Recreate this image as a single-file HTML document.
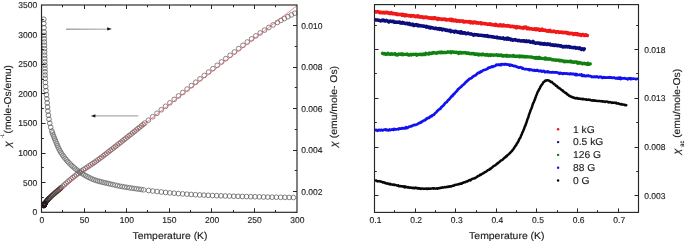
<!DOCTYPE html><html><head><meta charset="utf-8"><style>html,body{margin:0;padding:0;background:#fff;}svg{display:block;will-change:transform;}text{text-rendering:geometricPrecision;font-family:"Liberation Sans",sans-serif;fill:#1c1c1c;stroke:#1c1c1c;stroke-width:0.14px;}</style></head><body>
<svg width="685" height="242" viewBox="0 0 685 242">
<rect width="685" height="242" fill="#fff"/>
<g fill="none"><circle cx="43.80" cy="205.63" r="2.35" stroke="#1e1414" stroke-width="0.9"/><circle cx="43.91" cy="205.47" r="2.35" stroke="#1e1414" stroke-width="0.9"/><circle cx="44.01" cy="205.30" r="2.35" stroke="#1e1414" stroke-width="0.9"/><circle cx="44.11" cy="205.13" r="2.35" stroke="#1e1414" stroke-width="0.9"/><circle cx="44.19" cy="204.99" r="2.35" stroke="#1e1414" stroke-width="0.9"/><circle cx="44.27" cy="204.84" r="2.35" stroke="#1e1414" stroke-width="0.9"/><circle cx="44.35" cy="204.69" r="2.35" stroke="#1e1414" stroke-width="0.9"/><circle cx="44.42" cy="204.53" r="2.35" stroke="#1e1414" stroke-width="0.9"/><circle cx="44.50" cy="204.36" r="2.35" stroke="#1e1414" stroke-width="0.9"/><circle cx="44.57" cy="204.19" r="2.35" stroke="#1e1414" stroke-width="0.9"/><circle cx="44.64" cy="204.01" r="2.35" stroke="#1e1414" stroke-width="0.9"/><circle cx="44.72" cy="203.82" r="2.35" stroke="#1e1414" stroke-width="0.9"/><circle cx="44.80" cy="203.62" r="2.35" stroke="#1e1414" stroke-width="0.9"/><circle cx="44.87" cy="203.42" r="2.35" stroke="#1e1414" stroke-width="0.9"/><circle cx="44.94" cy="203.20" r="2.35" stroke="#1e1414" stroke-width="0.9"/><circle cx="45.00" cy="203.39" r="2.35" stroke="#2a1c1c" stroke-width="0.8"/><circle cx="45.64" cy="202.37" r="2.35" stroke="#2a1c1c" stroke-width="0.8"/><circle cx="46.33" cy="201.39" r="2.35" stroke="#2a1c1c" stroke-width="0.8"/><circle cx="47.09" cy="200.45" r="2.35" stroke="#2a1c1c" stroke-width="0.8"/><circle cx="47.89" cy="199.55" r="2.35" stroke="#2a1c1c" stroke-width="0.8"/><circle cx="48.72" cy="198.68" r="2.35" stroke="#2a1c1c" stroke-width="0.8"/><circle cx="49.58" cy="197.84" r="2.35" stroke="#2a1c1c" stroke-width="0.8"/><circle cx="50.61" cy="196.88" r="2.35" stroke="#3a2828" stroke-width="0.75"/><circle cx="51.64" cy="195.93" r="2.35" stroke="#3a2828" stroke-width="0.75"/><circle cx="52.67" cy="194.98" r="2.35" stroke="#3a2828" stroke-width="0.75"/><circle cx="53.72" cy="194.05" r="2.35" stroke="#3a2828" stroke-width="0.75"/><circle cx="54.79" cy="193.14" r="2.35" stroke="#3a2828" stroke-width="0.75"/><circle cx="55.86" cy="192.24" r="2.35" stroke="#3a2828" stroke-width="0.75"/><circle cx="56.94" cy="191.34" r="2.35" stroke="#3a2828" stroke-width="0.75"/><circle cx="58.02" cy="190.44" r="2.35" stroke="#3a2828" stroke-width="0.75"/><circle cx="59.09" cy="189.53" r="2.35" stroke="#3a2828" stroke-width="0.75"/><circle cx="60.14" cy="188.60" r="2.35" stroke="#3a2828" stroke-width="0.75"/><circle cx="61.19" cy="187.67" r="2.35" stroke="#3a2828" stroke-width="0.75"/><circle cx="62.83" cy="186.19" r="2.35" stroke="#6e5858" stroke-width="0.7"/><circle cx="64.47" cy="184.72" r="2.35" stroke="#6e5858" stroke-width="0.7"/><circle cx="66.11" cy="183.25" r="2.35" stroke="#6e5858" stroke-width="0.7"/><circle cx="67.77" cy="181.80" r="2.35" stroke="#6e5858" stroke-width="0.7"/><circle cx="69.44" cy="180.36" r="2.35" stroke="#6e5858" stroke-width="0.7"/><circle cx="71.14" cy="178.96" r="2.35" stroke="#6e5858" stroke-width="0.7"/><circle cx="72.85" cy="177.58" r="2.35" stroke="#6e5858" stroke-width="0.7"/><circle cx="74.57" cy="176.21" r="2.35" stroke="#6e5858" stroke-width="0.7"/><circle cx="76.31" cy="174.85" r="2.35" stroke="#6e5858" stroke-width="0.7"/><circle cx="78.06" cy="173.52" r="2.35" stroke="#6e5858" stroke-width="0.7"/><circle cx="79.83" cy="172.20" r="2.35" stroke="#6e5858" stroke-width="0.7"/><circle cx="81.62" cy="170.92" r="2.35" stroke="#6e5858" stroke-width="0.7"/><circle cx="83.43" cy="169.66" r="2.35" stroke="#6e5858" stroke-width="0.7"/><circle cx="85.27" cy="168.44" r="2.35" stroke="#6e5858" stroke-width="0.7"/><circle cx="87.11" cy="167.24" r="2.35" stroke="#6e5858" stroke-width="0.7"/><circle cx="88.96" cy="166.04" r="2.35" stroke="#6e5858" stroke-width="0.7"/><circle cx="90.81" cy="164.84" r="2.35" stroke="#6e5858" stroke-width="0.7"/><circle cx="92.64" cy="163.62" r="2.35" stroke="#6e5858" stroke-width="0.7"/><circle cx="94.46" cy="162.38" r="2.35" stroke="#6e5858" stroke-width="0.7"/><circle cx="96.26" cy="161.10" r="2.35" stroke="#6e5858" stroke-width="0.7"/><circle cx="98.04" cy="159.81" r="2.35" stroke="#6e5858" stroke-width="0.7"/><circle cx="99.81" cy="158.50" r="2.35" stroke="#6e5858" stroke-width="0.7"/><circle cx="101.57" cy="157.18" r="2.35" stroke="#6e5858" stroke-width="0.7"/><circle cx="103.33" cy="155.84" r="2.35" stroke="#6e5858" stroke-width="0.7"/><circle cx="105.08" cy="154.50" r="2.35" stroke="#6e5858" stroke-width="0.7"/><circle cx="106.82" cy="153.16" r="2.35" stroke="#6e5858" stroke-width="0.7"/><circle cx="108.56" cy="151.81" r="2.35" stroke="#6e5858" stroke-width="0.7"/><circle cx="110.30" cy="150.46" r="2.35" stroke="#6e5858" stroke-width="0.7"/><circle cx="112.04" cy="149.10" r="2.35" stroke="#6e5858" stroke-width="0.7"/><circle cx="113.77" cy="147.75" r="2.35" stroke="#6e5858" stroke-width="0.7"/><circle cx="115.52" cy="146.40" r="2.35" stroke="#6e5858" stroke-width="0.7"/><circle cx="117.25" cy="145.05" r="2.35" stroke="#6e5858" stroke-width="0.7"/><circle cx="118.99" cy="143.69" r="2.35" stroke="#6e5858" stroke-width="0.7"/><circle cx="120.72" cy="142.33" r="2.35" stroke="#6e5858" stroke-width="0.7"/><circle cx="122.46" cy="140.97" r="2.35" stroke="#6e5858" stroke-width="0.7"/><circle cx="124.18" cy="139.60" r="2.35" stroke="#6e5858" stroke-width="0.7"/><circle cx="125.91" cy="138.24" r="2.35" stroke="#6e5858" stroke-width="0.7"/><circle cx="127.64" cy="136.87" r="2.35" stroke="#6e5858" stroke-width="0.7"/><circle cx="129.36" cy="135.50" r="2.35" stroke="#6e5858" stroke-width="0.7"/><circle cx="131.08" cy="134.13" r="2.35" stroke="#6e5858" stroke-width="0.7"/><circle cx="132.80" cy="132.75" r="2.35" stroke="#6e5858" stroke-width="0.7"/><circle cx="134.53" cy="131.38" r="2.35" stroke="#6e5858" stroke-width="0.7"/><circle cx="136.25" cy="130.00" r="2.35" stroke="#6e5858" stroke-width="0.7"/><circle cx="137.97" cy="128.62" r="2.35" stroke="#6e5858" stroke-width="0.7"/><circle cx="139.69" cy="127.25" r="2.35" stroke="#6e5858" stroke-width="0.7"/><circle cx="141.40" cy="125.86" r="2.35" stroke="#6e5858" stroke-width="0.7"/><circle cx="143.12" cy="124.48" r="2.35" stroke="#6e5858" stroke-width="0.7"/><circle cx="144.83" cy="123.10" r="2.35" stroke="#6e5858" stroke-width="0.7"/><circle cx="148.40" cy="120.21" r="2.35" stroke="#665050" stroke-width="0.7"/><circle cx="152.70" cy="116.72" r="2.35" stroke="#665050" stroke-width="0.7"/><circle cx="157.00" cy="113.24" r="2.35" stroke="#665050" stroke-width="0.7"/><circle cx="161.30" cy="109.76" r="2.35" stroke="#665050" stroke-width="0.7"/><circle cx="165.60" cy="106.30" r="2.35" stroke="#665050" stroke-width="0.7"/><circle cx="169.90" cy="102.85" r="2.35" stroke="#665050" stroke-width="0.7"/><circle cx="174.20" cy="99.39" r="2.35" stroke="#665050" stroke-width="0.7"/><circle cx="178.50" cy="95.95" r="2.35" stroke="#665050" stroke-width="0.7"/><circle cx="182.80" cy="92.50" r="2.35" stroke="#665050" stroke-width="0.7"/><circle cx="187.10" cy="89.07" r="2.35" stroke="#665050" stroke-width="0.7"/><circle cx="191.40" cy="85.65" r="2.35" stroke="#665050" stroke-width="0.7"/><circle cx="195.70" cy="82.24" r="2.35" stroke="#665050" stroke-width="0.7"/><circle cx="200.00" cy="78.84" r="2.35" stroke="#665050" stroke-width="0.7"/><circle cx="204.30" cy="75.45" r="2.35" stroke="#665050" stroke-width="0.7"/><circle cx="208.60" cy="72.06" r="2.35" stroke="#665050" stroke-width="0.7"/><circle cx="212.90" cy="68.68" r="2.35" stroke="#665050" stroke-width="0.7"/><circle cx="217.20" cy="65.32" r="2.35" stroke="#665050" stroke-width="0.7"/><circle cx="221.50" cy="61.97" r="2.35" stroke="#665050" stroke-width="0.7"/><circle cx="225.80" cy="58.63" r="2.35" stroke="#665050" stroke-width="0.7"/><circle cx="230.10" cy="55.31" r="2.35" stroke="#665050" stroke-width="0.7"/><circle cx="234.40" cy="51.99" r="2.35" stroke="#665050" stroke-width="0.7"/><circle cx="238.70" cy="48.64" r="2.35" stroke="#665050" stroke-width="0.7"/><circle cx="243.00" cy="45.30" r="2.35" stroke="#665050" stroke-width="0.7"/><circle cx="247.30" cy="42.02" r="2.35" stroke="#665050" stroke-width="0.7"/><circle cx="251.60" cy="38.85" r="2.35" stroke="#665050" stroke-width="0.7"/><circle cx="255.90" cy="35.83" r="2.35" stroke="#665050" stroke-width="0.7"/><circle cx="260.20" cy="32.93" r="2.35" stroke="#665050" stroke-width="0.7"/><circle cx="264.50" cy="30.14" r="2.35" stroke="#665050" stroke-width="0.7"/><circle cx="268.80" cy="27.46" r="2.35" stroke="#665050" stroke-width="0.7"/><circle cx="273.10" cy="24.90" r="2.35" stroke="#665050" stroke-width="0.7"/><circle cx="277.40" cy="22.42" r="2.35" stroke="#665050" stroke-width="0.7"/><circle cx="280.90" cy="20.45" r="2.35" stroke="#665050" stroke-width="0.7"/><circle cx="284.40" cy="18.55" r="2.35" stroke="#665050" stroke-width="0.7"/><circle cx="287.90" cy="16.70" r="2.35" stroke="#665050" stroke-width="0.7"/><circle cx="291.40" cy="14.91" r="2.35" stroke="#665050" stroke-width="0.7"/><circle cx="294.90" cy="13.20" r="2.35" stroke="#665050" stroke-width="0.7"/></g>
<line x1="57" y1="191.84" x2="297" y2="5.6" stroke="#e2566a" stroke-width="0.7"/>
<g fill="none" stroke-width="0.7"><circle cx="43.80" cy="19.20" r="2.35" stroke="#4a4a4a"/><circle cx="43.91" cy="23.50" r="2.35" stroke="#4a4a4a"/><circle cx="44.01" cy="27.80" r="2.35" stroke="#4a4a4a"/><circle cx="44.11" cy="32.11" r="2.35" stroke="#4a4a4a"/><circle cx="44.19" cy="35.41" r="2.35" stroke="#505050"/><circle cx="44.27" cy="38.72" r="2.35" stroke="#505050"/><circle cx="44.35" cy="42.02" r="2.35" stroke="#505050"/><circle cx="44.42" cy="45.33" r="2.35" stroke="#505050"/><circle cx="44.50" cy="48.63" r="2.35" stroke="#505050"/><circle cx="44.57" cy="51.94" r="2.35" stroke="#505050"/><circle cx="44.64" cy="55.24" r="2.35" stroke="#505050"/><circle cx="44.72" cy="58.55" r="2.35" stroke="#505050"/><circle cx="44.80" cy="61.85" r="2.35" stroke="#505050"/><circle cx="44.87" cy="65.16" r="2.35" stroke="#505050"/><circle cx="44.94" cy="68.47" r="2.35" stroke="#505050"/><circle cx="45.02" cy="71.77" r="2.35" stroke="#505050"/><circle cx="45.10" cy="75.08" r="2.35" stroke="#505050"/><circle cx="45.21" cy="78.38" r="2.35" stroke="#505050"/><circle cx="45.42" cy="82.48" r="2.35" stroke="#4a4a4a"/><circle cx="45.69" cy="86.57" r="2.35" stroke="#4a4a4a"/><circle cx="46.04" cy="90.66" r="2.35" stroke="#4a4a4a"/><circle cx="46.48" cy="94.74" r="2.35" stroke="#4a4a4a"/><circle cx="46.86" cy="98.83" r="2.35" stroke="#4a4a4a"/><circle cx="47.22" cy="102.92" r="2.35" stroke="#4a4a4a"/><circle cx="47.57" cy="107.01" r="2.35" stroke="#4a4a4a"/><circle cx="47.90" cy="111.10" r="2.35" stroke="#4a4a4a"/><circle cx="48.35" cy="115.18" r="2.35" stroke="#4a4a4a"/><circle cx="48.99" cy="119.24" r="2.35" stroke="#4a4a4a"/><circle cx="49.79" cy="123.27" r="2.35" stroke="#4a4a4a"/><circle cx="50.71" cy="127.27" r="2.35" stroke="#4a4a4a"/><circle cx="51.85" cy="131.21" r="2.35" stroke="#4a4a4a"/><circle cx="52.44" cy="133.02" r="2.35" stroke="#676767"/><circle cx="53.07" cy="134.81" r="2.35" stroke="#676767"/><circle cx="53.76" cy="136.58" r="2.35" stroke="#676767"/><circle cx="54.48" cy="138.34" r="2.35" stroke="#676767"/><circle cx="55.21" cy="140.10" r="2.35" stroke="#676767"/><circle cx="55.92" cy="141.87" r="2.35" stroke="#676767"/><circle cx="56.63" cy="143.64" r="2.35" stroke="#676767"/><circle cx="57.35" cy="145.39" r="2.35" stroke="#676767"/><circle cx="58.11" cy="147.14" r="2.35" stroke="#676767"/><circle cx="58.91" cy="148.87" r="2.35" stroke="#676767"/><circle cx="59.78" cy="150.57" r="2.35" stroke="#676767"/><circle cx="60.73" cy="152.23" r="2.35" stroke="#676767"/><circle cx="61.75" cy="153.83" r="2.35" stroke="#676767"/><circle cx="62.83" cy="155.40" r="2.35" stroke="#676767"/><circle cx="63.96" cy="156.93" r="2.35" stroke="#676767"/><circle cx="65.14" cy="158.43" r="2.35" stroke="#676767"/><circle cx="66.34" cy="159.91" r="2.35" stroke="#676767"/><circle cx="67.59" cy="161.34" r="2.35" stroke="#676767"/><circle cx="68.88" cy="162.74" r="2.35" stroke="#676767"/><circle cx="70.22" cy="164.10" r="2.35" stroke="#676767"/><circle cx="71.59" cy="165.42" r="2.35" stroke="#676767"/><circle cx="72.99" cy="166.71" r="2.35" stroke="#676767"/><circle cx="74.42" cy="167.97" r="2.35" stroke="#676767"/><circle cx="75.89" cy="169.19" r="2.35" stroke="#676767"/><circle cx="77.39" cy="170.36" r="2.35" stroke="#676767"/><circle cx="78.93" cy="171.48" r="2.35" stroke="#676767"/><circle cx="80.50" cy="172.56" r="2.35" stroke="#676767"/><circle cx="82.10" cy="173.60" r="2.35" stroke="#676767"/><circle cx="83.72" cy="174.61" r="2.35" stroke="#676767"/><circle cx="85.37" cy="175.58" r="2.35" stroke="#676767"/><circle cx="87.03" cy="176.49" r="2.35" stroke="#676767"/><circle cx="88.72" cy="177.37" r="2.35" stroke="#676767"/><circle cx="90.43" cy="178.21" r="2.35" stroke="#676767"/><circle cx="92.16" cy="179.00" r="2.35" stroke="#676767"/><circle cx="93.92" cy="179.71" r="2.35" stroke="#676767"/><circle cx="95.72" cy="180.34" r="2.35" stroke="#676767"/><circle cx="97.54" cy="180.90" r="2.35" stroke="#676767"/><circle cx="99.37" cy="181.41" r="2.35" stroke="#676767"/><circle cx="101.22" cy="181.89" r="2.35" stroke="#676767"/><circle cx="103.06" cy="182.35" r="2.35" stroke="#676767"/><circle cx="104.92" cy="182.78" r="2.35" stroke="#676767"/><circle cx="106.78" cy="183.20" r="2.35" stroke="#676767"/><circle cx="108.65" cy="183.62" r="2.35" stroke="#676767"/><circle cx="110.51" cy="184.04" r="2.35" stroke="#676767"/><circle cx="112.85" cy="184.58" r="2.35" stroke="#5e5e5e"/><circle cx="115.19" cy="185.14" r="2.35" stroke="#5e5e5e"/><circle cx="117.53" cy="185.69" r="2.35" stroke="#5e5e5e"/><circle cx="119.88" cy="186.18" r="2.35" stroke="#5e5e5e"/><circle cx="122.24" cy="186.61" r="2.35" stroke="#5e5e5e"/><circle cx="124.61" cy="187.01" r="2.35" stroke="#5e5e5e"/><circle cx="126.99" cy="187.39" r="2.35" stroke="#5e5e5e"/><circle cx="129.37" cy="187.76" r="2.35" stroke="#5e5e5e"/><circle cx="131.74" cy="188.11" r="2.35" stroke="#5e5e5e"/><circle cx="134.12" cy="188.46" r="2.35" stroke="#5e5e5e"/><circle cx="136.50" cy="188.81" r="2.35" stroke="#5e5e5e"/><circle cx="138.88" cy="189.16" r="2.35" stroke="#5e5e5e"/><circle cx="141.26" cy="189.50" r="2.35" stroke="#5e5e5e"/><circle cx="143.64" cy="189.84" r="2.35" stroke="#5e5e5e"/><circle cx="148.56" cy="190.50" r="2.35" stroke="#505050"/><circle cx="152.82" cy="191.02" r="2.35" stroke="#505050"/><circle cx="157.08" cy="191.52" r="2.35" stroke="#505050"/><circle cx="161.34" cy="191.99" r="2.35" stroke="#505050"/><circle cx="165.60" cy="192.44" r="2.35" stroke="#505050"/><circle cx="169.86" cy="192.86" r="2.35" stroke="#505050"/><circle cx="174.12" cy="193.23" r="2.35" stroke="#505050"/><circle cx="178.38" cy="193.56" r="2.35" stroke="#505050"/><circle cx="182.64" cy="193.88" r="2.35" stroke="#505050"/><circle cx="186.90" cy="194.18" r="2.35" stroke="#505050"/><circle cx="191.16" cy="194.46" r="2.35" stroke="#505050"/><circle cx="195.42" cy="194.71" r="2.35" stroke="#505050"/><circle cx="199.68" cy="194.94" r="2.35" stroke="#505050"/><circle cx="203.94" cy="195.14" r="2.35" stroke="#505050"/><circle cx="208.20" cy="195.33" r="2.35" stroke="#505050"/><circle cx="212.46" cy="195.51" r="2.35" stroke="#505050"/><circle cx="216.72" cy="195.67" r="2.35" stroke="#505050"/><circle cx="220.98" cy="195.82" r="2.35" stroke="#505050"/><circle cx="225.24" cy="195.97" r="2.35" stroke="#505050"/><circle cx="229.50" cy="196.10" r="2.35" stroke="#505050"/><circle cx="233.76" cy="196.23" r="2.35" stroke="#505050"/><circle cx="238.02" cy="196.35" r="2.35" stroke="#505050"/><circle cx="242.28" cy="196.46" r="2.35" stroke="#505050"/><circle cx="246.54" cy="196.57" r="2.35" stroke="#505050"/><circle cx="250.80" cy="196.68" r="2.35" stroke="#505050"/><circle cx="255.06" cy="196.78" r="2.35" stroke="#505050"/><circle cx="259.32" cy="196.88" r="2.35" stroke="#505050"/><circle cx="263.58" cy="196.98" r="2.35" stroke="#505050"/><circle cx="267.84" cy="197.07" r="2.35" stroke="#505050"/><circle cx="272.10" cy="197.16" r="2.35" stroke="#505050"/><circle cx="276.36" cy="197.24" r="2.35" stroke="#505050"/><circle cx="280.62" cy="197.31" r="2.35" stroke="#505050"/><circle cx="284.88" cy="197.38" r="2.35" stroke="#505050"/><circle cx="289.14" cy="197.45" r="2.35" stroke="#505050"/><circle cx="293.40" cy="197.50" r="2.35" stroke="#505050"/></g>
<defs><linearGradient id="ag" x1="0" x2="1" y1="0" y2="0"><stop offset="0" stop-color="#4a4a4a"/><stop offset="0.5" stop-color="#6a6a6a"/><stop offset="1" stop-color="#8a8a8a"/></linearGradient></defs>
<path d="M66,28.7 L108.5,28.7 L108.5,29.6 L66,29.6 Z" fill="url(#ag)"/>
<path d="M107.2,27.3 L111.8,28.9 L107.2,30.5 Z" fill="#151515"/>
<line x1="93.5" y1="115.9" x2="138.2" y2="115.9" stroke="#acacac" stroke-width="1.3"/>
<path d="M95.4,114.3 L90.8,115.9 L95.4,117.5 Z" fill="#151515"/>
<rect x="41.5" y="5.0" width="255.5" height="207.3" fill="none" stroke="#262626" stroke-width="1.15"/>
<path d="M62.50,212.3v-2.3M62.50,5.0v2.3M84.50,212.3v-4M84.50,5.0v4M105.50,212.3v-2.3M105.50,5.0v2.3M126.50,212.3v-4M126.50,5.0v4M147.50,212.3v-2.3M147.50,5.0v2.3M169.50,212.3v-4M169.50,5.0v4M190.50,212.3v-2.3M190.50,5.0v2.3M211.50,212.3v-4M211.50,5.0v4M233.50,212.3v-2.3M233.50,5.0v2.3M254.50,212.3v-4M254.50,5.0v4M275.50,212.3v-2.3M275.50,5.0v2.3M41.5,197.50h2.3M41.5,182.50h4M41.5,167.50h2.3M41.5,153.50h4M41.5,138.50h2.3M41.5,123.50h4M41.5,108.50h2.3M41.5,93.50h4M41.5,79.50h2.3M41.5,64.50h4M41.5,49.50h2.3M41.5,34.50h4M41.5,19.50h2.3M297.0,212.50h-2.3M297.0,191.50h-4M297.0,170.50h-2.3M297.0,150.50h-4M297.0,129.50h-2.3M297.0,108.50h-4M297.0,87.50h-2.3M297.0,67.50h-4M297.0,46.50h-2.3M297.0,25.50h-4" stroke="#262626" stroke-width="1" fill="none"/>
<text x="39.43" y="223.20" font-size="8.5" font-family="Liberation Sans" >0</text><text x="79.66" y="223.20" font-size="8.5" font-family="Liberation Sans" >50</text><text x="119.72" y="223.20" font-size="8.5" font-family="Liberation Sans" >100</text><text x="162.30" y="223.20" font-size="8.5" font-family="Liberation Sans" >150</text><text x="204.99" y="223.20" font-size="8.5" font-family="Liberation Sans" >200</text><text x="247.58" y="223.20" font-size="8.5" font-family="Liberation Sans" >250</text><text x="290.21" y="223.20" font-size="8.5" font-family="Liberation Sans" >300</text><text x="32.50" y="215.30" font-size="8.5" font-family="Liberation Sans" >0</text><text x="23.04" y="185.69" font-size="8.5" font-family="Liberation Sans" >500</text><text x="18.33" y="156.07" font-size="8.5" font-family="Liberation Sans" >1000</text><text x="18.33" y="126.46" font-size="8.5" font-family="Liberation Sans" >1500</text><text x="18.33" y="96.84" font-size="8.5" font-family="Liberation Sans" >2000</text><text x="18.33" y="67.23" font-size="8.5" font-family="Liberation Sans" >2500</text><text x="18.33" y="37.61" font-size="8.5" font-family="Liberation Sans" >3000</text><text x="18.33" y="8.00" font-size="8.5" font-family="Liberation Sans" >3500</text><text x="301.26" y="194.60" font-size="8.5" font-family="Liberation Sans" >0.002</text><text x="301.26" y="153.07" font-size="8.5" font-family="Liberation Sans" >0.004</text><text x="301.26" y="111.55" font-size="8.5" font-family="Liberation Sans" >0.006</text><text x="301.26" y="70.02" font-size="8.5" font-family="Liberation Sans" >0.008</text><text x="301.26" y="28.50" font-size="8.5" font-family="Liberation Sans" >0.010</text>
<text x="132.52" y="238.60" font-size="9.9" font-family="Liberation Sans" textLength="74.98" lengthAdjust="spacingAndGlyphs" >Temperature (K)</text>
<text transform="translate(10.90,147.22) rotate(-90)" x="0" y="0" font-size="9.9" font-family="Liberation Sans" font-style="italic" textLength="5.89" lengthAdjust="spacingAndGlyphs" stroke="#1c1c1c" stroke-width="0.1" >χ</text>
<text transform="translate(4.00,137.45) rotate(-90)" x="0" y="0" font-size="5.0" font-family="Liberation Sans" textLength="2.91" lengthAdjust="spacingAndGlyphs" stroke="#1c1c1c" stroke-width="0.2" >-1</text>
<text transform="translate(10.50,133.54) rotate(-90)" x="0" y="0" font-size="9.9" font-family="Liberation Sans" textLength="68.59" lengthAdjust="spacingAndGlyphs" stroke="#1c1c1c" stroke-width="0.1" >(mole-Os/emu)</text>
<text transform="translate(337.00,147.22) rotate(-90)" x="0" y="0" font-size="9.9" font-family="Liberation Sans" font-style="italic" textLength="5.89" lengthAdjust="spacingAndGlyphs" stroke="#1c1c1c" stroke-width="0.1" >χ</text>
<text transform="translate(337.00,138.25) rotate(-90)" x="0" y="0" font-size="9.9" font-family="Liberation Sans" textLength="72.31" lengthAdjust="spacingAndGlyphs" stroke="#1c1c1c" stroke-width="0.1" >(emu/mole- Os)</text>
<path d="M375.60,11.80 L376.20,11.97 L376.80,11.84 L377.40,11.69 L378.01,11.91 L378.61,11.79 L379.21,12.23 L379.81,12.75 L380.41,12.17 L381.01,12.20 L381.61,12.65 L382.22,12.68 L382.82,12.66 L383.42,12.36 L384.02,12.75 L384.62,13.07 L385.22,12.42 L385.82,12.80 L386.43,12.36 L387.03,12.64 L387.63,12.52 L388.23,13.15 L388.83,12.86 L389.43,13.46 L390.03,13.49 L390.64,13.44 L391.24,12.69 L391.84,13.45 L392.44,13.69 L393.04,13.81 L393.64,13.30 L394.24,13.74 L394.85,13.63 L395.45,13.76 L396.05,14.48 L396.65,13.90 L397.25,14.23 L397.85,14.62 L398.45,14.18 L399.06,14.41 L399.66,14.55 L400.26,14.60 L400.86,14.22 L401.46,14.74 L402.06,15.26 L402.66,14.31 L403.27,15.22 L403.87,15.03 L404.47,14.83 L405.07,15.82 L405.67,15.45 L406.27,14.83 L406.87,15.35 L407.48,15.59 L408.08,15.39 L408.68,15.76 L409.28,15.57 L409.88,15.89 L410.48,16.23 L411.08,15.55 L411.69,15.93 L412.29,15.76 L412.89,16.03 L413.49,15.64 L414.09,15.92 L414.69,16.12 L415.29,16.57 L415.90,16.72 L416.50,15.93 L417.10,16.18 L417.70,16.75 L418.30,15.89 L418.90,16.49 L419.50,16.69 L420.11,17.23 L420.71,17.10 L421.31,16.81 L421.91,16.86 L422.51,16.97 L423.11,17.65 L423.71,17.04 L424.32,17.15 L424.92,17.44 L425.52,17.34 L426.12,17.38 L426.72,17.13 L427.32,17.58 L427.92,17.49 L428.52,18.12 L429.13,18.01 L429.73,17.84 L430.33,18.15 L430.93,17.86 L431.53,18.41 L432.13,18.11 L432.73,18.38 L433.34,17.79 L433.94,18.43 L434.54,17.78 L435.14,17.73 L435.74,18.40 L436.34,18.25 L436.94,18.69 L437.55,19.49 L438.15,18.48 L438.75,18.61 L439.35,18.97 L439.95,19.14 L440.55,18.97 L441.15,19.02 L441.76,19.41 L442.36,19.41 L442.96,18.93 L443.56,19.33 L444.16,19.43 L444.76,19.12 L445.36,19.64 L445.97,19.32 L446.57,20.02 L447.17,19.81 L447.77,19.84 L448.37,19.67 L448.97,19.90 L449.57,19.31 L450.18,19.68 L450.78,20.26 L451.38,19.46 L451.98,20.56 L452.58,19.72 L453.18,20.66 L453.78,20.16 L454.39,20.80 L454.99,20.64 L455.59,20.12 L456.19,21.15 L456.79,21.29 L457.39,20.82 L457.99,20.81 L458.60,20.92 L459.20,20.69 L459.80,21.48 L460.40,20.97 L461.00,21.21 L461.60,21.01 L462.20,21.13 L462.81,20.97 L463.41,21.92 L464.01,21.49 L464.61,21.94 L465.21,21.67 L465.81,21.49 L466.41,21.68 L467.02,21.66 L467.62,21.92 L468.22,21.85 L468.82,21.94 L469.42,21.63 L470.02,21.89 L470.62,22.81 L471.23,22.06 L471.83,21.99 L472.43,22.54 L473.03,22.98 L473.63,22.04 L474.23,22.54 L474.83,22.45 L475.44,22.12 L476.04,23.05 L476.64,22.85 L477.24,22.95 L477.84,22.72 L478.44,23.21 L479.04,22.92 L479.65,23.12 L480.25,22.85 L480.85,22.87 L481.45,23.83 L482.05,23.24 L482.65,23.59 L483.25,23.53 L483.86,23.45 L484.46,23.49 L485.06,23.96 L485.66,23.69 L486.26,23.81 L486.86,23.93 L487.46,24.40 L488.07,24.29 L488.67,24.25 L489.27,23.98 L489.87,23.75 L490.47,24.63 L491.07,24.70 L491.67,24.38 L492.28,24.68 L492.88,24.83 L493.48,24.91 L494.08,25.00 L494.68,24.59 L495.28,25.34 L495.88,24.44 L496.49,25.24 L497.09,25.17 L497.69,25.37 L498.29,25.79 L498.89,25.71 L499.49,24.86 L500.09,24.73 L500.70,25.67 L501.30,25.10 L501.90,25.51 L502.50,25.87 L503.10,25.07 L503.70,24.97 L504.30,25.87 L504.91,25.86 L505.51,25.82 L506.11,25.99 L506.71,25.74 L507.31,25.57 L507.91,26.11 L508.51,25.90 L509.12,25.73 L509.72,26.55 L510.32,26.41 L510.92,26.64 L511.52,26.22 L512.12,26.40 L512.72,26.35 L513.33,26.46 L513.93,26.90 L514.53,26.63 L515.13,27.09 L515.73,27.16 L516.33,27.81 L516.93,26.68 L517.54,27.55 L518.14,27.27 L518.74,27.37 L519.34,26.93 L519.94,27.35 L520.54,27.83 L521.14,27.61 L521.75,27.74 L522.35,27.68 L522.95,28.25 L523.55,27.90 L524.15,27.21 L524.75,27.81 L525.35,27.43 L525.96,27.05 L526.56,28.07 L527.16,28.79 L527.76,28.40 L528.36,28.05 L528.96,28.19 L529.56,28.99 L530.17,28.72 L530.77,28.75 L531.37,28.78 L531.97,28.88 L532.57,29.22 L533.17,29.20 L533.77,29.15 L534.38,28.78 L534.98,29.39 L535.58,29.04 L536.18,29.73 L536.78,28.97 L537.38,29.44 L537.98,29.55 L538.58,29.16 L539.19,30.29 L539.79,30.27 L540.39,29.67 L540.99,30.17 L541.59,30.10 L542.19,29.12 L542.79,30.20 L543.40,30.16 L544.00,30.28 L544.60,29.94 L545.20,30.29 L545.80,30.39 L546.40,30.94 L547.00,30.71 L547.61,30.66 L548.21,31.27 L548.81,30.61 L549.41,30.74 L550.01,30.31 L550.61,31.56 L551.21,31.42 L551.82,31.48 L552.42,31.46 L553.02,31.33 L553.62,31.44 L554.22,31.35 L554.82,31.44 L555.42,31.60 L556.03,32.18 L556.63,31.91 L557.23,31.77 L557.83,31.66 L558.43,31.71 L559.03,32.56 L559.63,32.25 L560.24,32.17 L560.84,32.09 L561.44,31.90 L562.04,32.34 L562.64,32.74 L563.24,32.36 L563.84,32.49 L564.45,32.57 L565.05,32.75 L565.65,32.23 L566.25,32.78 L566.85,32.63 L567.45,33.31 L568.05,32.80 L568.66,33.35 L569.26,33.75 L569.86,33.18 L570.46,33.15 L571.06,33.50 L571.66,33.50 L572.26,33.23 L572.87,33.81 L573.47,34.43 L574.07,33.70 L574.67,33.80 L575.27,33.57 L575.87,34.12 L576.47,33.65 L577.08,33.77 L577.68,34.68 L578.28,33.99 L578.88,34.75 L579.48,34.98 L580.08,34.61 L580.68,34.79 L581.29,35.35 L581.89,34.67 L582.49,34.61 L583.09,34.41 L583.69,34.97 L584.29,35.55 L584.89,35.44 L585.50,34.85 L586.10,34.95 L586.70,35.15 L587.30,35.50" fill="none" stroke="#f01818" stroke-width="3.5" stroke-linejoin="round" stroke-linecap="round"/>
<path d="M375.60,19.83 L376.20,20.03 L376.80,20.11 L377.40,19.96 L378.01,20.10 L378.61,20.25 L379.21,20.20 L379.81,20.47 L380.41,21.00 L381.01,20.61 L381.61,20.49 L382.22,19.94 L382.82,20.72 L383.42,19.97 L384.02,20.22 L384.62,21.07 L385.22,21.09 L385.82,20.85 L386.43,20.37 L387.03,20.90 L387.63,20.86 L388.23,21.39 L388.83,22.03 L389.43,21.38 L390.03,21.10 L390.64,21.03 L391.24,21.49 L391.84,21.52 L392.44,21.25 L393.04,21.77 L393.64,21.40 L394.24,22.26 L394.85,22.32 L395.45,22.40 L396.05,21.93 L396.65,22.35 L397.25,22.20 L397.85,22.19 L398.45,22.28 L399.06,22.02 L399.66,22.05 L400.26,22.91 L400.86,22.65 L401.46,22.87 L402.06,23.23 L402.66,22.36 L403.27,22.77 L403.87,23.20 L404.47,23.36 L405.07,23.18 L405.67,23.76 L406.27,23.56 L406.87,23.16 L407.48,23.35 L408.08,24.05 L408.68,24.03 L409.28,23.30 L409.88,24.53 L410.48,24.36 L411.09,24.72 L411.69,24.22 L412.29,24.35 L412.89,24.16 L413.49,25.54 L414.09,24.69 L414.69,25.41 L415.30,24.73 L415.90,25.12 L416.50,24.58 L417.10,25.13 L417.70,25.72 L418.30,25.04 L418.90,25.96 L419.51,25.80 L420.11,25.42 L420.71,25.72 L421.31,25.84 L421.91,26.09 L422.51,26.02 L423.11,26.02 L423.72,26.31 L424.32,26.16 L424.92,26.18 L425.52,26.72 L426.12,27.15 L426.72,26.41 L427.32,27.05 L427.93,26.92 L428.53,26.91 L429.13,27.65 L429.73,27.27 L430.33,28.08 L430.93,27.38 L431.53,27.89 L432.14,27.78 L432.74,27.69 L433.34,28.26 L433.94,28.10 L434.54,28.46 L435.14,28.34 L435.74,28.07 L436.35,28.52 L436.95,28.67 L437.55,29.09 L438.15,28.54 L438.75,28.94 L439.35,28.45 L439.95,29.38 L440.56,28.88 L441.16,28.73 L441.76,29.44 L442.36,29.95 L442.96,29.13 L443.56,29.38 L444.16,29.61 L444.77,29.57 L445.37,30.20 L445.97,29.89 L446.57,30.02 L447.17,30.58 L447.77,30.21 L448.37,30.73 L448.98,30.34 L449.58,30.35 L450.18,30.24 L450.78,31.63 L451.38,30.97 L451.98,31.26 L452.58,31.27 L453.19,31.43 L453.79,31.49 L454.39,32.24 L454.99,31.31 L455.59,31.23 L456.19,31.52 L456.79,31.50 L457.40,32.33 L458.00,32.45 L458.60,31.92 L459.20,31.87 L459.80,32.33 L460.40,33.03 L461.00,31.65 L461.61,32.92 L462.21,32.45 L462.81,33.28 L463.41,32.63 L464.01,33.00 L464.61,32.67 L465.21,32.94 L465.82,33.86 L466.42,33.75 L467.02,33.41 L467.62,33.33 L468.22,33.06 L468.82,33.68 L469.42,33.89 L470.03,33.96 L470.63,34.04 L471.23,33.77 L471.83,34.22 L472.43,34.32 L473.03,34.87 L473.63,35.15 L474.24,34.53 L474.84,34.40 L475.44,34.73 L476.04,34.62 L476.64,34.66 L477.24,34.98 L477.84,34.72 L478.45,35.37 L479.05,35.21 L479.65,35.41 L480.25,35.34 L480.85,35.23 L481.45,35.24 L482.06,35.57 L482.66,35.54 L483.26,35.89 L483.86,35.89 L484.46,35.49 L485.06,36.07 L485.66,35.66 L486.27,35.99 L486.87,36.18 L487.47,35.64 L488.07,36.48 L488.67,36.58 L489.27,36.55 L489.87,36.53 L490.48,36.63 L491.08,36.50 L491.68,36.82 L492.28,36.80 L492.88,37.10 L493.48,36.73 L494.08,37.31 L494.69,37.36 L495.29,37.33 L495.89,37.31 L496.49,37.73 L497.09,37.03 L497.69,37.86 L498.29,37.86 L498.90,37.95 L499.50,38.06 L500.10,37.78 L500.70,37.99 L501.30,38.39 L501.90,38.39 L502.50,38.39 L503.11,37.87 L503.71,38.66 L504.31,38.96 L504.91,38.98 L505.51,38.79 L506.11,38.24 L506.71,39.20 L507.32,38.89 L507.92,38.14 L508.52,39.24 L509.12,38.66 L509.72,38.81 L510.32,39.12 L510.92,39.87 L511.53,39.37 L512.13,39.68 L512.73,40.27 L513.33,40.30 L513.93,39.78 L514.53,39.82 L515.13,39.54 L515.74,39.82 L516.34,40.29 L516.94,40.36 L517.54,40.34 L518.14,40.73 L518.74,40.19 L519.34,40.52 L519.95,40.87 L520.55,40.90 L521.15,41.15 L521.75,40.99 L522.35,40.82 L522.95,41.14 L523.55,40.74 L524.16,40.60 L524.76,41.45 L525.36,41.31 L525.96,41.52 L526.56,40.89 L527.16,41.44 L527.76,41.44 L528.37,41.42 L528.97,41.01 L529.57,41.77 L530.17,42.28 L530.77,42.17 L531.37,41.91 L531.97,42.19 L532.58,42.54 L533.18,41.39 L533.78,42.39 L534.38,42.71 L534.98,42.83 L535.58,43.27 L536.18,43.15 L536.79,42.94 L537.39,43.02 L537.99,43.26 L538.59,42.88 L539.19,43.13 L539.79,43.54 L540.39,43.99 L541.00,43.33 L541.60,43.45 L542.20,43.61 L542.80,44.09 L543.40,43.69 L544.00,44.29 L544.60,43.52 L545.21,43.87 L545.81,43.94 L546.41,44.37 L547.01,44.54 L547.61,43.72 L548.21,44.01 L548.81,44.52 L549.42,44.25 L550.02,44.03 L550.62,45.00 L551.22,44.89 L551.82,44.97 L552.42,44.71 L553.03,45.31 L553.63,44.95 L554.23,45.50 L554.83,44.87 L555.43,44.97 L556.03,45.42 L556.63,45.18 L557.24,45.74 L557.84,45.67 L558.44,45.34 L559.04,45.76 L559.64,45.69 L560.24,46.21 L560.84,45.75 L561.45,45.90 L562.05,46.55 L562.65,46.99 L563.25,46.98 L563.85,46.38 L564.45,46.52 L565.05,47.05 L565.66,46.55 L566.26,46.33 L566.86,46.79 L567.46,46.99 L568.06,46.62 L568.66,46.41 L569.26,46.56 L569.87,47.37 L570.47,46.95 L571.07,47.25 L571.67,47.45 L572.27,47.67 L572.87,47.41 L573.47,47.78 L574.08,47.37 L574.68,47.64 L575.28,47.48 L575.88,48.31 L576.48,47.99 L577.08,47.81 L577.68,48.03 L578.29,48.15 L578.89,48.55 L579.49,47.82 L580.09,48.10 L580.69,48.40 L581.29,49.50 L581.89,49.03 L582.50,48.73 L583.10,49.09 L583.70,49.64 L584.30,48.92" fill="none" stroke="#0c0c7c" stroke-width="3.4" stroke-linejoin="round" stroke-linecap="round"/>
<path d="M382.50,53.28 L383.10,53.84 L383.70,53.67 L384.30,53.78 L384.90,53.45 L385.50,54.28 L386.10,54.27 L386.70,53.95 L387.30,54.04 L387.91,53.22 L388.51,54.13 L389.11,53.91 L389.71,54.15 L390.31,54.28 L390.91,53.99 L391.51,53.60 L392.11,54.30 L392.71,53.98 L393.31,54.15 L393.91,54.10 L394.51,54.21 L395.11,53.61 L395.71,54.77 L396.31,54.49 L396.91,54.78 L397.51,55.08 L398.12,54.47 L398.72,53.90 L399.32,54.20 L399.92,54.11 L400.52,54.34 L401.12,54.53 L401.72,53.86 L402.32,54.61 L402.92,54.02 L403.52,54.60 L404.12,54.46 L404.72,54.40 L405.32,54.48 L405.92,54.33 L406.52,54.30 L407.12,53.96 L407.72,54.49 L408.32,55.09 L408.93,55.13 L409.53,54.92 L410.13,54.73 L410.73,54.28 L411.33,54.96 L411.93,54.48 L412.53,54.48 L413.13,54.41 L413.73,54.53 L414.33,54.36 L414.93,54.47 L415.53,54.15 L416.13,54.38 L416.73,55.23 L417.33,54.48 L417.93,54.42 L418.53,54.66 L419.14,54.70 L419.74,54.09 L420.34,54.36 L420.94,54.68 L421.54,54.43 L422.14,54.34 L422.74,54.75 L423.34,53.98 L423.94,54.17 L424.54,53.92 L425.14,54.50 L425.74,53.33 L426.34,53.68 L426.94,53.65 L427.54,53.97 L428.14,53.88 L428.74,54.06 L429.35,53.05 L429.95,53.72 L430.55,53.32 L431.15,53.14 L431.75,53.46 L432.35,52.93 L432.95,52.50 L433.55,53.00 L434.15,52.58 L434.75,52.81 L435.35,53.09 L435.95,53.03 L436.55,53.39 L437.15,52.78 L437.75,52.30 L438.35,52.50 L438.95,52.40 L439.55,52.26 L440.16,52.74 L440.76,52.35 L441.36,51.88 L441.96,52.69 L442.56,52.39 L443.16,52.50 L443.76,52.39 L444.36,52.52 L444.96,52.30 L445.56,52.66 L446.16,52.38 L446.76,52.35 L447.36,52.34 L447.96,51.74 L448.56,52.15 L449.16,52.12 L449.76,52.27 L450.37,51.78 L450.97,52.75 L451.57,52.28 L452.17,51.87 L452.77,51.74 L453.37,52.22 L453.97,52.30 L454.57,52.13 L455.17,52.42 L455.77,52.22 L456.37,52.63 L456.97,52.26 L457.57,52.52 L458.17,52.89 L458.77,53.44 L459.37,52.34 L459.97,52.56 L460.58,52.48 L461.18,53.05 L461.78,52.48 L462.38,52.74 L462.98,52.94 L463.58,52.68 L464.18,52.74 L464.78,52.95 L465.38,52.48 L465.98,52.74 L466.58,53.12 L467.18,53.36 L467.78,53.30 L468.38,52.84 L468.98,53.31 L469.58,53.77 L470.18,53.74 L470.78,53.59 L471.39,53.38 L471.99,53.91 L472.59,53.57 L473.19,53.42 L473.79,53.59 L474.39,54.36 L474.99,54.01 L475.59,54.37 L476.19,53.89 L476.79,54.40 L477.39,53.96 L477.99,54.16 L478.59,55.06 L479.19,54.56 L479.79,54.21 L480.39,54.39 L480.99,54.57 L481.60,54.90 L482.20,54.39 L482.80,54.03 L483.40,54.53 L484.00,54.66 L484.60,54.72 L485.20,55.13 L485.80,54.84 L486.40,55.03 L487.00,54.44 L487.60,55.10 L488.20,55.51 L488.80,55.11 L489.40,54.97 L490.00,54.96 L490.60,55.50 L491.20,54.65 L491.81,54.94 L492.41,55.14 L493.01,55.25 L493.61,54.89 L494.21,55.15 L494.81,54.99 L495.41,55.14 L496.01,55.08 L496.61,54.78 L497.21,55.16 L497.81,55.48 L498.41,54.91 L499.01,55.17 L499.61,55.49 L500.21,54.97 L500.81,55.40 L501.41,55.04 L502.02,55.78 L502.62,56.20 L503.22,56.15 L503.82,55.47 L504.42,55.82 L505.02,55.66 L505.62,55.70 L506.22,56.20 L506.82,55.32 L507.42,56.12 L508.02,55.80 L508.62,56.30 L509.22,55.94 L509.82,55.69 L510.42,56.02 L511.02,56.20 L511.62,56.00 L512.22,56.18 L512.83,55.88 L513.43,55.39 L514.03,56.39 L514.63,56.35 L515.23,56.20 L515.83,56.20 L516.43,56.53 L517.03,56.08 L517.63,56.03 L518.23,56.22 L518.83,56.69 L519.43,55.89 L520.03,56.74 L520.63,56.19 L521.23,56.07 L521.83,56.86 L522.43,56.46 L523.04,56.11 L523.64,56.44 L524.24,56.89 L524.84,57.02 L525.44,56.54 L526.04,56.85 L526.64,56.99 L527.24,56.60 L527.84,56.97 L528.44,56.90 L529.04,56.79 L529.64,56.85 L530.24,57.09 L530.84,57.13 L531.44,57.00 L532.04,57.10 L532.64,57.65 L533.25,57.42 L533.85,57.70 L534.45,57.86 L535.05,57.72 L535.65,58.32 L536.25,57.40 L536.85,57.98 L537.45,57.69 L538.05,58.45 L538.65,58.46 L539.25,57.35 L539.85,57.73 L540.45,58.32 L541.05,58.43 L541.65,58.47 L542.25,58.28 L542.85,58.52 L543.45,58.65 L544.06,58.48 L544.66,58.91 L545.26,57.93 L545.86,58.93 L546.46,58.47 L547.06,59.18 L547.66,58.87 L548.26,58.74 L548.86,59.22 L549.46,58.88 L550.06,58.96 L550.66,58.83 L551.26,59.40 L551.86,59.65 L552.46,59.89 L553.06,59.60 L553.66,60.06 L554.27,59.81 L554.87,59.85 L555.47,60.14 L556.07,60.38 L556.67,60.01 L557.27,60.12 L557.87,60.22 L558.47,60.38 L559.07,60.14 L559.67,60.84 L560.27,60.46 L560.87,60.81 L561.47,60.47 L562.07,60.92 L562.67,61.01 L563.27,60.82 L563.87,61.68 L564.48,61.22 L565.08,61.75 L565.68,61.56 L566.28,61.11 L566.88,61.28 L567.48,61.61 L568.08,61.56 L568.68,61.63 L569.28,61.60 L569.88,61.18 L570.48,61.76 L571.08,61.20 L571.68,62.10 L572.28,61.82 L572.88,61.90 L573.48,62.13 L574.08,62.36 L574.68,61.89 L575.29,61.86 L575.89,62.15 L576.49,61.91 L577.09,62.32 L577.69,63.21 L578.29,62.44 L578.89,63.06 L579.49,62.48 L580.09,63.09 L580.69,62.96 L581.29,63.12 L581.89,63.39 L582.49,63.84 L583.09,63.41 L583.69,63.46 L584.29,63.18 L584.89,63.75 L585.50,63.56 L586.10,63.97 L586.70,63.76 L587.30,64.40 L587.90,63.28 L588.50,63.89 L589.10,64.34 L589.70,64.02 L590.30,63.95" fill="none" stroke="#108010" stroke-width="3.3" stroke-linejoin="round" stroke-linecap="round"/>
<path d="M375.60,130.13 L376.20,129.81 L376.80,130.23 L377.40,130.88 L378.00,130.51 L378.60,129.87 L379.20,129.93 L379.80,130.05 L380.41,130.43 L381.01,129.91 L381.61,129.93 L382.21,130.36 L382.81,130.33 L383.41,129.97 L384.01,129.74 L384.61,129.60 L385.21,129.82 L385.81,129.37 L386.41,130.18 L387.01,129.77 L387.61,130.06 L388.21,130.43 L388.82,130.21 L389.42,129.53 L390.02,130.07 L390.62,130.12 L391.22,129.56 L391.82,129.47 L392.42,129.66 L393.02,129.20 L393.62,130.01 L394.22,128.86 L394.82,129.17 L395.42,129.33 L396.02,129.28 L396.62,129.31 L397.22,129.26 L397.83,129.05 L398.43,129.34 L399.03,128.34 L399.63,128.85 L400.23,128.55 L400.83,128.70 L401.43,128.62 L402.03,128.21 L402.63,128.18 L403.23,128.48 L403.83,128.25 L404.43,127.84 L405.03,128.48 L405.63,128.42 L406.24,127.23 L406.84,127.57 L407.44,128.04 L408.04,127.40 L408.64,127.07 L409.24,126.78 L409.84,126.51 L410.44,126.42 L411.04,126.13 L411.64,126.30 L412.24,125.79 L412.84,125.57 L413.44,125.16 L414.04,125.27 L414.64,124.82 L415.25,124.81 L415.85,124.93 L416.45,124.50 L417.05,124.28 L417.65,123.97 L418.25,123.61 L418.85,123.27 L419.45,122.92 L420.05,122.92 L420.65,122.09 L421.25,122.46 L421.85,121.78 L422.45,121.24 L423.05,120.99 L423.66,120.61 L424.26,120.52 L424.86,119.94 L425.46,120.12 L426.06,119.23 L426.66,118.46 L427.26,118.53 L427.86,117.81 L428.46,117.98 L429.06,117.90 L429.66,117.40 L430.26,116.44 L430.86,116.19 L431.46,116.48 L432.06,115.64 L432.67,115.11 L433.27,114.94 L433.87,114.86 L434.47,114.04 L435.07,113.21 L435.67,112.75 L436.27,112.30 L436.87,111.41 L437.47,110.74 L438.07,110.49 L438.67,109.64 L439.27,109.32 L439.87,108.78 L440.47,108.83 L441.08,107.34 L441.68,106.96 L442.28,106.35 L442.88,105.93 L443.48,105.50 L444.08,104.48 L444.68,103.79 L445.28,102.96 L445.88,102.54 L446.48,102.33 L447.08,101.56 L447.68,100.62 L448.28,100.15 L448.88,99.62 L449.48,99.10 L450.09,98.14 L450.69,97.58 L451.29,96.50 L451.89,96.04 L452.49,96.17 L453.09,94.47 L453.69,94.34 L454.29,93.85 L454.89,93.03 L455.49,92.26 L456.09,91.82 L456.69,91.18 L457.29,90.51 L457.89,89.37 L458.49,89.22 L459.10,88.39 L459.70,87.86 L460.30,87.46 L460.90,86.98 L461.50,86.46 L462.10,85.49 L462.70,85.30 L463.30,84.80 L463.90,84.22 L464.50,83.74 L465.10,82.77 L465.70,82.23 L466.30,82.00 L466.90,80.88 L467.51,80.83 L468.11,80.15 L468.71,79.72 L469.31,78.87 L469.91,78.65 L470.51,78.45 L471.11,78.26 L471.71,77.86 L472.31,77.13 L472.91,76.69 L473.51,76.10 L474.11,76.04 L474.71,75.46 L475.31,75.30 L475.91,75.23 L476.52,74.35 L477.12,73.56 L477.72,73.36 L478.32,72.83 L478.92,72.54 L479.52,72.88 L480.12,72.23 L480.72,71.40 L481.32,71.68 L481.92,71.52 L482.52,70.75 L483.12,70.35 L483.72,70.14 L484.32,70.01 L484.93,69.80 L485.53,69.66 L486.13,69.38 L486.73,69.08 L487.33,68.86 L487.93,68.39 L488.53,67.52 L489.13,67.66 L489.73,67.55 L490.33,67.13 L490.93,67.28 L491.53,66.72 L492.13,66.35 L492.73,66.82 L493.33,66.40 L493.94,66.07 L494.54,66.08 L495.14,65.94 L495.74,65.56 L496.34,64.62 L496.94,64.97 L497.54,64.89 L498.14,64.63 L498.74,64.86 L499.34,65.05 L499.94,64.52 L500.54,64.27 L501.14,65.09 L501.74,64.34 L502.35,64.07 L502.95,64.44 L503.55,64.46 L504.15,64.12 L504.75,64.52 L505.35,64.17 L505.95,64.07 L506.55,64.43 L507.15,64.66 L507.75,64.34 L508.35,64.71 L508.95,64.69 L509.55,65.61 L510.15,64.73 L510.75,65.43 L511.36,65.13 L511.96,65.23 L512.56,65.61 L513.16,65.81 L513.76,66.08 L514.36,65.99 L514.96,65.91 L515.56,66.11 L516.16,66.59 L516.76,66.80 L517.36,67.22 L517.96,67.12 L518.56,67.47 L519.16,67.76 L519.77,67.54 L520.37,67.23 L520.97,67.47 L521.57,67.56 L522.17,68.56 L522.77,68.03 L523.37,68.77 L523.97,68.74 L524.57,69.21 L525.17,69.15 L525.77,68.98 L526.37,69.09 L526.97,69.30 L527.57,69.44 L528.17,69.36 L528.78,69.61 L529.38,70.16 L529.98,69.33 L530.58,69.96 L531.18,69.72 L531.78,70.10 L532.38,70.36 L532.98,70.18 L533.58,70.48 L534.18,69.89 L534.78,70.71 L535.38,70.30 L535.98,70.70 L536.58,70.64 L537.19,69.92 L537.79,70.50 L538.39,70.83 L538.99,71.26 L539.59,70.97 L540.19,71.02 L540.79,70.62 L541.39,71.48 L541.99,71.65 L542.59,71.22 L543.19,71.22 L543.79,70.90 L544.39,71.67 L544.99,72.25 L545.59,71.76 L546.20,71.99 L546.80,71.86 L547.40,71.50 L548.00,72.23 L548.60,71.58 L549.20,71.94 L549.80,72.15 L550.40,72.39 L551.00,72.33 L551.60,72.39 L552.20,72.14 L552.80,72.07 L553.40,72.52 L554.00,72.37 L554.61,72.27 L555.21,72.35 L555.81,72.63 L556.41,72.32 L557.01,72.52 L557.61,72.51 L558.21,73.08 L558.81,73.20 L559.41,73.71 L560.01,72.78 L560.61,73.07 L561.21,73.57 L561.81,73.30 L562.41,73.32 L563.01,73.94 L563.62,73.41 L564.22,73.23 L564.82,73.23 L565.42,73.74 L566.02,73.77 L566.62,73.35 L567.22,73.50 L567.82,73.97 L568.42,74.02 L569.02,73.72 L569.62,74.12 L570.22,74.15 L570.82,73.53 L571.42,73.99 L572.02,74.24 L572.63,74.01 L573.23,73.62 L573.83,74.18 L574.43,74.52 L575.03,74.81 L575.63,73.80 L576.23,75.20 L576.83,74.21 L577.43,74.85 L578.03,74.99 L578.63,74.98 L579.23,74.82 L579.83,74.53 L580.43,75.11 L581.04,74.81 L581.64,74.39 L582.24,75.97 L582.84,75.46 L583.44,75.86 L584.04,75.19 L584.64,75.94 L585.24,76.07 L585.84,76.15 L586.44,75.79 L587.04,75.55 L587.64,75.92 L588.24,75.44 L588.84,75.66 L589.44,76.25 L590.05,76.02 L590.65,76.32 L591.25,76.41 L591.85,77.04 L592.45,76.92 L593.05,76.60 L593.65,77.00 L594.25,76.50 L594.85,76.67 L595.45,77.07 L596.05,76.51 L596.65,76.83 L597.25,76.58 L597.85,77.03 L598.46,77.49 L599.06,76.87 L599.66,77.18 L600.26,76.91 L600.86,76.88 L601.46,76.90 L602.06,77.69 L602.66,77.98 L603.26,77.49 L603.86,77.19 L604.46,77.62 L605.06,77.37 L605.66,77.72 L606.26,77.61 L606.86,77.64 L607.47,77.77 L608.07,77.47 L608.67,77.55 L609.27,77.22 L609.87,77.61 L610.47,77.36 L611.07,77.75 L611.67,77.56 L612.27,77.89 L612.87,78.02 L613.47,77.52 L614.07,77.72 L614.67,77.72 L615.27,78.22 L615.88,78.52 L616.48,78.31 L617.08,78.01 L617.68,78.55 L618.28,77.74 L618.88,78.62 L619.48,78.04 L620.08,77.48 L620.68,79.03 L621.28,78.76 L621.88,78.06 L622.48,78.42 L623.08,78.34 L623.68,78.46 L624.28,78.04 L624.89,78.30 L625.49,78.65 L626.09,78.60 L626.69,78.90 L627.29,78.62 L627.89,79.28 L628.49,78.45 L629.09,78.75 L629.69,78.16 L630.29,78.37 L630.89,79.12 L631.49,78.51 L632.09,78.95 L632.69,78.80 L633.30,78.55 L633.90,78.77 L634.50,78.75 L635.10,78.78 L635.70,79.15 L636.30,79.14 L636.90,78.82 L637.50,78.75" fill="none" stroke="#1212ee" stroke-width="2.7" stroke-linejoin="round" stroke-linecap="round"/>
<path d="M375.60,180.39 L376.20,180.47 L376.80,180.89 L377.40,181.41 L378.00,181.17 L378.61,181.14 L379.21,181.27 L379.81,181.28 L380.41,181.42 L381.01,181.56 L381.61,181.85 L382.21,181.99 L382.81,182.40 L383.42,182.30 L384.02,182.50 L384.62,182.42 L385.22,183.20 L385.82,183.10 L386.42,183.52 L387.02,183.45 L387.62,183.74 L388.23,183.50 L388.83,183.85 L389.43,184.43 L390.03,183.70 L390.63,184.36 L391.23,184.61 L391.83,184.46 L392.43,184.67 L393.03,184.91 L393.64,184.61 L394.24,184.98 L394.84,184.81 L395.44,184.98 L396.04,185.12 L396.64,185.34 L397.24,185.53 L397.84,185.71 L398.45,185.41 L399.05,186.29 L399.65,186.21 L400.25,186.22 L400.85,186.08 L401.45,186.25 L402.05,186.49 L402.65,186.56 L403.26,186.19 L403.86,186.83 L404.46,187.42 L405.06,186.43 L405.66,187.16 L406.26,187.11 L406.86,187.09 L407.46,187.51 L408.06,187.01 L408.67,187.40 L409.27,187.77 L409.87,187.47 L410.47,187.50 L411.07,187.69 L411.67,187.63 L412.27,188.14 L412.87,187.65 L413.48,188.12 L414.08,187.70 L414.68,188.20 L415.28,188.08 L415.88,187.57 L416.48,188.21 L417.08,188.01 L417.68,188.20 L418.29,188.68 L418.89,188.12 L419.49,188.18 L420.09,188.78 L420.69,188.52 L421.29,188.87 L421.89,188.63 L422.49,188.38 L423.09,188.58 L423.70,188.88 L424.30,188.82 L424.90,188.61 L425.50,188.63 L426.10,188.60 L426.70,188.50 L427.30,189.07 L427.90,188.64 L428.51,188.38 L429.11,188.53 L429.71,188.80 L430.31,188.78 L430.91,188.59 L431.51,188.45 L432.11,188.59 L432.71,188.17 L433.32,188.23 L433.92,188.67 L434.52,188.35 L435.12,188.50 L435.72,188.66 L436.32,188.49 L436.92,188.30 L437.52,188.73 L438.12,188.34 L438.73,188.05 L439.33,188.23 L439.93,188.10 L440.53,187.74 L441.13,187.88 L441.73,187.76 L442.33,187.28 L442.93,187.60 L443.54,187.49 L444.14,187.37 L444.74,187.01 L445.34,187.20 L445.94,187.18 L446.54,187.11 L447.14,186.72 L447.74,187.02 L448.35,186.49 L448.95,186.60 L449.55,186.83 L450.15,186.25 L450.75,186.16 L451.35,186.39 L451.95,185.93 L452.55,185.81 L453.15,185.79 L453.76,185.83 L454.36,184.95 L454.96,185.10 L455.56,184.91 L456.16,184.73 L456.76,184.61 L457.36,184.44 L457.96,184.53 L458.57,184.08 L459.17,184.13 L459.77,184.01 L460.37,183.57 L460.97,183.57 L461.57,183.71 L462.17,183.21 L462.77,182.79 L463.38,182.71 L463.98,182.30 L464.58,182.35 L465.18,182.26 L465.78,181.66 L466.38,181.57 L466.98,181.63 L467.58,181.02 L468.18,180.93 L468.79,180.41 L469.39,180.20 L469.99,180.02 L470.59,180.35 L471.19,179.51 L471.79,179.22 L472.39,178.93 L472.99,178.74 L473.60,178.64 L474.20,178.25 L474.80,178.36 L475.40,177.66 L476.00,177.62 L476.60,177.06 L477.20,176.82 L477.80,176.06 L478.41,176.02 L479.01,175.71 L479.61,175.34 L480.21,174.59 L480.81,174.92 L481.41,174.29 L482.01,173.93 L482.61,173.62 L483.21,173.27 L483.82,173.05 L484.42,172.31 L485.02,172.02 L485.62,171.91 L486.22,171.50 L486.82,171.00 L487.42,170.57 L488.02,170.11 L488.63,169.89 L489.23,169.76 L489.83,168.86 L490.43,169.02 L491.03,168.46 L491.63,167.76 L492.23,167.61 L492.83,166.69 L493.44,166.20 L494.04,165.86 L494.64,165.62 L495.24,165.20 L495.84,164.71 L496.44,164.39 L497.04,163.45 L497.64,163.57 L498.24,162.69 L498.85,162.39 L499.45,161.97 L500.05,161.33 L500.65,160.80 L501.25,160.40 L501.85,160.13 L502.45,159.78 L503.05,159.29 L503.66,158.46 L504.26,158.01 L504.86,157.49 L505.46,157.28 L506.06,156.21 L506.66,156.40 L507.26,155.46 L507.86,154.82 L508.46,154.49 L509.07,154.04 L509.67,153.28 L510.27,152.81 L510.87,151.96 L511.47,151.53 L512.07,150.84 L512.67,149.82 L513.27,149.41 L513.88,148.34 L514.48,147.50 L515.08,146.41 L515.68,145.64 L516.28,144.93 L516.88,143.49 L517.48,142.91 L518.08,141.79 L518.69,140.68 L519.29,139.01 L519.89,138.32 L520.49,137.26 L521.09,135.66 L521.69,134.51 L522.29,132.57 L522.89,131.81 L523.49,130.04 L524.10,128.87 L524.70,126.74 L525.30,125.74 L525.90,123.95 L526.50,122.50 L527.10,120.37 L527.70,118.64 L528.30,117.47 L528.91,115.02 L529.51,113.33 L530.11,111.74 L530.71,109.90 L531.31,108.73 L531.91,107.21 L532.51,105.06 L533.11,103.24 L533.72,102.33 L534.32,100.79 L534.92,99.20 L535.52,97.75 L536.12,95.82 L536.72,94.52 L537.32,92.85 L537.92,91.50 L538.52,90.77 L539.13,89.20 L539.73,88.67 L540.33,87.06 L540.93,85.83 L541.53,85.17 L542.13,84.52 L542.73,83.43 L543.33,82.25 L543.94,81.84 L544.54,81.44 L545.14,80.61 L545.74,80.39 L546.34,80.70 L546.94,80.45 L547.54,80.16 L548.14,80.38 L548.75,80.47 L549.35,80.94 L549.95,81.20 L550.55,81.76 L551.15,82.01 L551.75,81.84 L552.35,82.65 L552.95,83.20 L553.55,83.59 L554.16,84.24 L554.76,84.43 L555.36,84.89 L555.96,85.85 L556.56,85.94 L557.16,86.19 L557.76,87.37 L558.36,87.46 L558.97,88.02 L559.57,88.25 L560.17,88.74 L560.77,89.24 L561.37,89.87 L561.97,90.48 L562.57,90.34 L563.17,91.46 L563.78,91.46 L564.38,91.91 L564.98,92.71 L565.58,92.98 L566.18,93.10 L566.78,94.29 L567.38,94.13 L567.98,94.81 L568.58,95.22 L569.19,95.89 L569.79,95.85 L570.39,96.51 L570.99,96.43 L571.59,97.10 L572.19,96.90 L572.79,97.17 L573.39,97.85 L574.00,97.67 L574.60,97.77 L575.20,98.39 L575.80,98.11 L576.40,97.98 L577.00,98.44 L577.60,98.13 L578.20,98.75 L578.81,98.87 L579.41,98.58 L580.01,98.66 L580.61,98.93 L581.21,98.99 L581.81,98.86 L582.41,99.28 L583.01,98.78 L583.61,99.21 L584.22,99.29 L584.82,99.39 L585.42,99.58 L586.02,99.31 L586.62,99.78 L587.22,99.68 L587.82,99.65 L588.42,99.56 L589.03,99.67 L589.63,100.07 L590.23,99.85 L590.83,100.14 L591.43,100.42 L592.03,100.48 L592.63,100.65 L593.23,100.30 L593.84,100.19 L594.44,100.71 L595.04,100.61 L595.64,100.85 L596.24,100.66 L596.84,100.98 L597.44,100.96 L598.04,100.99 L598.64,101.00 L599.25,101.04 L599.85,101.06 L600.45,101.12 L601.05,101.35 L601.65,101.08 L602.25,101.63 L602.85,101.29 L603.45,101.60 L604.06,101.43 L604.66,101.46 L605.26,102.03 L605.86,101.59 L606.46,101.44 L607.06,101.64 L607.66,101.81 L608.26,102.43 L608.87,102.08 L609.47,102.32 L610.07,101.98 L610.67,102.37 L611.27,102.53 L611.87,102.87 L612.47,102.42 L613.07,102.80 L613.67,102.83 L614.28,102.64 L614.88,102.96 L615.48,103.01 L616.08,102.66 L616.68,103.41 L617.28,103.51 L617.88,103.41 L618.48,103.32 L619.09,104.05 L619.69,103.90 L620.29,104.18 L620.89,104.39 L621.49,104.08 L622.09,104.50 L622.69,104.39 L623.29,104.55 L623.90,104.67 L624.50,104.82 L625.10,105.19 L625.70,105.10 L626.30,105.17" fill="none" stroke="#080808" stroke-width="2.5" stroke-linejoin="round" stroke-linecap="round"/>
<rect x="374.5" y="4.6" width="264.0" height="207.8" fill="none" stroke="#262626" stroke-width="1.15"/>
<path d="M394.50,212.4v-2.3M394.50,4.6v2.3M415.50,212.4v-4M415.50,4.6v4M435.50,212.4v-2.3M435.50,4.6v2.3M455.50,212.4v-4M455.50,4.6v4M476.50,212.4v-2.3M476.50,4.6v2.3M496.50,212.4v-4M496.50,4.6v4M516.50,212.4v-2.3M516.50,4.6v2.3M536.50,212.4v-4M536.50,4.6v4M557.50,212.4v-2.3M557.50,4.6v2.3M577.50,212.4v-4M577.50,4.6v4M597.50,212.4v-2.3M597.50,4.6v2.3M618.50,212.4v-4M618.50,4.6v4M374.5,195.50h4M638.5,195.50h-4M374.5,171.50h2.3M638.5,171.50h-2.3M374.5,147.50h4M638.5,147.50h-4M374.5,122.50h2.3M638.5,122.50h-2.3M374.5,98.50h4M638.5,98.50h-4M374.5,73.50h2.3M638.5,73.50h-2.3M374.5,49.50h4M638.5,49.50h-4M374.5,25.50h2.3M638.5,25.50h-2.3" stroke="#262626" stroke-width="1" fill="none"/>
<text x="369.62" y="223.20" font-size="8.5" font-family="Liberation Sans" >0.1</text><text x="410.25" y="223.20" font-size="8.5" font-family="Liberation Sans" >0.2</text><text x="450.83" y="223.20" font-size="8.5" font-family="Liberation Sans" >0.3</text><text x="491.39" y="223.20" font-size="8.5" font-family="Liberation Sans" >0.4</text><text x="532.05" y="223.20" font-size="8.5" font-family="Liberation Sans" >0.5</text><text x="572.68" y="223.20" font-size="8.5" font-family="Liberation Sans" >0.6</text><text x="613.33" y="223.20" font-size="8.5" font-family="Liberation Sans" >0.7</text><text x="644.16" y="198.70" font-size="8.5" font-family="Liberation Sans" >0.003</text><text x="644.16" y="150.00" font-size="8.5" font-family="Liberation Sans" >0.008</text><text x="644.16" y="101.30" font-size="8.5" font-family="Liberation Sans" >0.013</text><text x="644.16" y="52.60" font-size="8.5" font-family="Liberation Sans" >0.018</text>
<text x="469.12" y="238.60" font-size="9.9" font-family="Liberation Sans" textLength="75.38" lengthAdjust="spacingAndGlyphs" >Temperature (K)</text>
<text transform="translate(680.20,154.62) rotate(-90)" x="0" y="0" font-size="9.9" font-family="Liberation Sans" font-style="italic" textLength="5.89" lengthAdjust="spacingAndGlyphs" stroke="#1c1c1c" stroke-width="0.1" >χ</text>
<text transform="translate(683.60,146.63) rotate(-90)" x="0" y="0" font-size="6.4" font-family="Liberation Sans" textLength="5.79" lengthAdjust="spacingAndGlyphs" stroke="#1c1c1c" stroke-width="0.2" >ac</text>
<text transform="translate(679.80,137.85) rotate(-90)" x="0" y="0" font-size="9.9" font-family="Liberation Sans" textLength="69.10" lengthAdjust="spacingAndGlyphs" stroke="#1c1c1c" stroke-width="0.1" >(emu/mole-Os)</text>
<circle cx="558.1" cy="129.30" r="1.2" fill="#e8141b"/>
<text x="572.93" y="132.60" font-size="10.0" font-family="Liberation Sans" textLength="21.75" lengthAdjust="spacingAndGlyphs" >1 kG</text>
<circle cx="558.1" cy="142.10" r="1.2" fill="#10107e"/>
<text x="572.99" y="145.40" font-size="10.0" font-family="Liberation Sans" textLength="30.34" lengthAdjust="spacingAndGlyphs" >0.5 kG</text>
<circle cx="558.1" cy="154.90" r="1.2" fill="#128212"/>
<text x="572.93" y="158.20" font-size="10.0" font-family="Liberation Sans" textLength="28.06" lengthAdjust="spacingAndGlyphs" >126 G</text>
<circle cx="558.1" cy="167.70" r="1.2" fill="#1414f0"/>
<text x="572.96" y="171.00" font-size="10.0" font-family="Liberation Sans" textLength="22.33" lengthAdjust="spacingAndGlyphs" >88 G</text>
<circle cx="558.1" cy="180.50" r="1.2" fill="#000"/>
<text x="572.99" y="183.80" font-size="10.0" font-family="Liberation Sans" textLength="16.60" lengthAdjust="spacingAndGlyphs" >0 G</text>
</svg></body></html>
